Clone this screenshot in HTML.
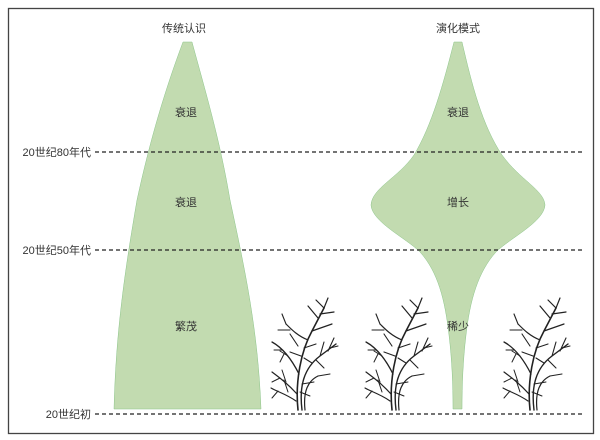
<!DOCTYPE html>
<html><head><meta charset="utf-8"><style>
html,body{margin:0;padding:0;background:#fff;}
svg{display:block;}
text{font-family:"Liberation Sans","Noto Sans CJK SC",sans-serif;font-size:11px;fill:#333;}
</style></head><body>
<svg width="600" height="440" viewBox="0 0 600 440" xmlns="http://www.w3.org/2000/svg">
<defs>
<g id="plant" fill="none" stroke="#222" stroke-linecap="round">
  <path d="M30 114 C27 85 33 55 44 35 L56 12" stroke-width="1.6"/>
  <path d="M34 114 C31 90 36 72 52 60 L68 48" stroke-width="1.4"/>
  <path d="M37 114 C35 95 40 85 50 80" stroke-width="1.2"/>
  <path d="M31 78 C24 64 15 52 4 46" stroke-width="1.3"/>
  <path d="M29 98 C20 88 12 82 4 76" stroke-width="1.2"/>
  <path d="M28 105 C18 98 10 96 3 92" stroke-width="1.1"/>
  <path d="M40 44 C30 40 24 34 18 28" stroke-width="1.2"/>
  <path d="M44 35 L64 28 M50 22 L40 10 M56 12 L60 2 M56 12 L48 4 M52 18 L66 16" stroke-width="1.2"/>
  <path d="M33 60 L22 56 M30 50 L22 38 M36 52 L48 48 M18 28 L14 18 M22 34 L10 34" stroke-width="1.1"/>
  <path d="M52 60 L56 46 M60 55 L66 42 M62 52 L70 50 M44 67 L36 62 M48 64 L56 72 M50 80 L62 78" stroke-width="1.1"/>
  <path d="M20 60 L12 55 M14 54 L6 54 M16 58 L12 66 M18 86 L14 74 M12 82 L4 86 M20 96 L16 84 M10 95 L4 102" stroke-width="1"/>
  <path d="M34 88 L46 86 M32 96 L42 100" stroke-width="1"/>
</g>
</defs>
<rect x="8.5" y="8.5" width="585" height="425" fill="#fff" stroke="#444" stroke-width="1.3"/>
<path d="M183 42 L192 42 C205 90 220 140 230 200 C245 270 258 330 261 409 L114 409 C116 330 125 270 137 200 C150 140 165 90 183 42 Z" fill="#c2dbb0" stroke="#8cc58a" stroke-width="0.5"/>
<path d="M454 42 L462 42 C472 85 482 125 502 155 C520 180 544 190 545 205 C544 222 510 238 496 252 C478 272 470 300 466 335 C463 360 462 385 462 409 L453 409 C453 385 452 360 449 335 C445 300 438 272 420 252 C406 238 372 222 371 205 C372 188 398 178 414 155 C432 125 443 85 454 42 Z" fill="#c2dbb0" stroke="#8cc58a" stroke-width="0.5"/>
<g stroke="#222" stroke-width="1.3" stroke-dasharray="4,3">
<line x1="95" y1="152" x2="584" y2="152"/>
<line x1="95" y1="250" x2="584" y2="250"/>
<line x1="95" y1="414" x2="584" y2="414"/>
</g>
<text x="91" y="156" text-anchor="end">20世纪80年代</text>
<text x="91" y="254" text-anchor="end">20世纪50年代</text>
<text x="91" y="418" text-anchor="end">20世纪初</text>
<text x="184" y="32" text-anchor="middle">传统认识</text>
<text x="458" y="32" text-anchor="middle">演化模式</text>
<text x="186" y="116" text-anchor="middle">衰退</text>
<text x="186" y="206" text-anchor="middle">衰退</text>
<text x="186" y="330" text-anchor="middle">繁茂</text>
<text x="458" y="116" text-anchor="middle">衰退</text>
<text x="458" y="206" text-anchor="middle">增长</text>
<text x="458" y="330" text-anchor="middle">稀少</text>
<use href="#plant" transform="translate(268,296)"/>
<use href="#plant" transform="translate(362,296)"/>
<use href="#plant" transform="translate(500,296)"/>
</svg>
</body></html>
